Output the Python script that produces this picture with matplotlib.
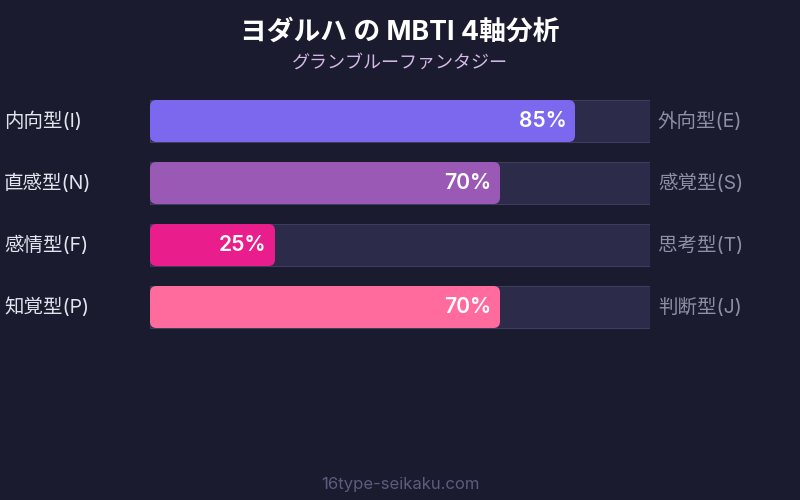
import matplotlib
matplotlib.use("Agg")
import matplotlib.pyplot as plt
from matplotlib.patches import FancyBboxPatch

plt.rcParams['font.family'] = ['Inter', 'Noto Sans CJK JP', 'DejaVu Sans']

# data
left_labels = ['内向型(I)', '直感型(N)', '感情型(F)', '知覚型(P)']
right_labels = ['外向型(E)', '感覚型(S)', '思考型(T)', '判断型(J)']
values = [85, 70, 25, 70]
colors = ['#7b68ee', '#9b59b6', '#e91e8c', '#ff6b9d']

bg = '#1a1b2e'
track_color = '#2d2b4a'
track_edge = '#3f3d5e'

fig = plt.figure(figsize=(8, 5), dpi=100, facecolor=bg)

# bar area: 150..650 px wide, rows 62 px apart starting at y=90 px
ax = fig.add_axes([150 / 800, (500 - 338) / 500, 500 / 800, 248 / 500])
ax.set_facecolor(bg)
ax.set_xlim(0, 100)
ax.set_ylim(3.5, -0.5)
ax.axis('off')

bar_h = 42 / 62
aspect = (1 / 62) / (1 / 5)   # y units per px / x units per px
radius = 1.3

for i, (v, c) in enumerate(zip(values, colors)):
    ax.barh(i, 100, height=bar_h, color=track_color, edgecolor=track_edge,
            linewidth=0.8)
    box = FancyBboxPatch((0, i - bar_h / 2), v, bar_h,
                         boxstyle=f'round,pad=0,rounding_size={radius}',
                         mutation_aspect=aspect, facecolor=c, edgecolor='none')
    ax.add_patch(box)
    ax.text(v - 1.7, i, f'{v}%', ha='right', va='center',
            color='white', fontsize=15.2, fontweight='semibold')
    ax.text(-29.2, i, left_labels[i], ha='left', va='center',
            color='#e4e4ee', fontsize=14, clip_on=False)
    ax.text(101.6, i, right_labels[i], ha='left', va='center',
            color='#8e8ea6', fontsize=14, clip_on=False)

fig.text(0.5, 1 - 33 / 500, 'ヨダルハ の MBTI 4軸分析', ha='center', va='center',
         color='white', fontsize=19.3, fontweight='bold')
fig.text(0.5, 1 - 63 / 500, 'グランブルーファンタジー', ha='center', va='center',
         color='#d4b8e8', fontsize=13)
fig.text(0.5, 1 - 484 / 500, '16type-seikaku.com', ha='center', va='center',
         color='#5c5c7e', fontsize=12)

fig.savefig('out.png', dpi=100, facecolor=bg)
